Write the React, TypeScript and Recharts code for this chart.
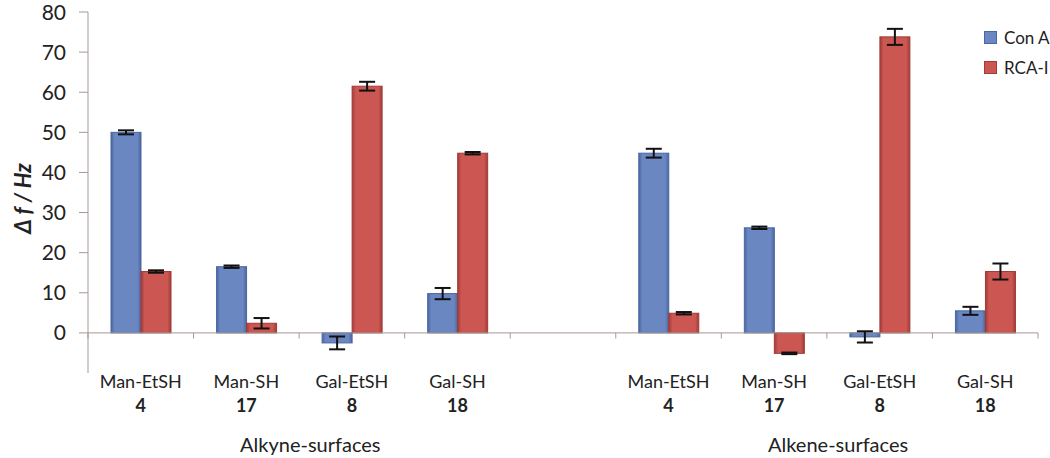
import { Bar, BarChart, ErrorBar, ReferenceLine, XAxis, YAxis } from "recharts";

const IDS = ["yn-1", "yn-2", "yn-3", "yn-4", "gap", "en-1", "en-2", "en-3", "en-4"];
const NAMES = ["Man-EtSH", "Man-SH", "Gal-EtSH", "Gal-SH", "", "Man-EtSH", "Man-SH", "Gal-EtSH", "Gal-SH"];
const COMPOUNDS = ["4", "17", "8", "18", "", "4", "17", "8", "18"];
const GROUPS = ["Alkyne-surfaces", "Alkene-surfaces"];
const GROUP_AT = [1, 6]; // label sits between the 2nd and 3rd bar group of each block

const CON_A = [50.0, 16.5, -2.5, 9.8, null, 44.8, 26.2, -1.0, 5.5];
const CON_A_ERR = [0.5, 0.3, 1.6, 1.4, null, 1.1, 0.3, 1.4, 1.0];
const RCA = [15.3, 2.4, 61.5, 44.8, null, 4.9, -5.1, 73.8, 15.3];
const RCA_ERR = [0.3, 1.3, 1.1, 0.3, null, 0.3, 0.2, 2.0, 2.0];

const Y_TICKS = [0, 10, 20, 30, 40, 50, 60, 70, 80];
const SERIES = [
  { key: "conA", name: "Con A", fill: "#6a87c2", edge: "#4a66a2", grad: "blueGrad" },
  { key: "rca", name: "RCA-I", fill: "#cc5652", edge: "#a03b38", grad: "redGrad" },
];

const data = IDS.map((id, i) => ({
  id,
  conA: CON_A[i],
  conAErr: CON_A_ERR[i],
  rca: RCA[i],
  rcaErr: RCA_ERR[i],
}));

const FONT = "Lato, 'Liberation Sans', sans-serif";
const AXIS = "#a59995";

function BevelBar(props: any) {
  const { x, y, width, height, grad, edge } = props;
  if (height == null || width == null) return null;
  const top = height < 0 ? y + height : y;
  const h = Math.abs(height);
  return (
    <rect x={x} y={top} width={width} height={h} fill={`url(#${grad})`} stroke={edge} strokeWidth={1} />
  );
}

function CategoryTick(props: any) {
  const { x, y, payload } = props;
  const i = payload.index;
  const g = GROUP_AT.indexOf(i);
  return (
    <g fontFamily={FONT} fill="#222">
      {NAMES[i] && (
        <text x={x} y={y + 7} textAnchor="middle" fontSize={18}>
          {NAMES[i]}
        </text>
      )}
      {COMPOUNDS[i] && (
        <text x={x} y={y + 31} textAnchor="middle" fontSize={18} fontWeight="bold">
          {COMPOUNDS[i]}
        </text>
      )}
      {g >= 0 && (
        <text x={x + 64} y={y + 71} textAnchor="middle" fontSize={20}>
          {GROUPS[g]}
        </text>
      )}
    </g>
  );
}

function LegendBox() {
  return (
    <div
      style={{
        position: "absolute",
        left: 984,
        top: 22,
        fontFamily: FONT,
        fontSize: 17,
        color: "#222",
        whiteSpace: "nowrap",
      }}
    >
      {SERIES.map((s) => (
        <div key={s.key} style={{ display: "flex", alignItems: "center", height: 30 }}>
          <span
            style={{
              display: "inline-block",
              width: 11,
              height: 11,
              marginRight: 7,
              background: s.fill,
              border: `1px solid ${s.edge}`,
            }}
          />
          {s.name}
        </div>
      ))}
    </div>
  );
}

export default function App() {
  return (
    <div style={{ position: "absolute", left: 0, top: 0, width: 1050, height: 458, background: "#fff" }}>
      <BarChart
        width={1050}
        height={458}
        data={data}
        margin={{ top: 12, right: 12, left: 0, bottom: 5 }}
        barGap={0}
        barSize={30}
      >
        <defs>
          {SERIES.map((s) => (
            <linearGradient key={s.grad} id={s.grad} x1="0" y1="0" x2="1" y2="0">
              <stop offset="0%" stopColor={s.edge} />
              <stop offset="12%" stopColor={s.fill} />
              <stop offset="88%" stopColor={s.fill} />
              <stop offset="100%" stopColor={s.edge} />
            </linearGradient>
          ))}
        </defs>
        <XAxis
          dataKey="id"
          interval={0}
          axisLine={false}
          tickLine={false}
          height={80}
          tick={<CategoryTick />}
        />
        <YAxis
          domain={[-10, 80]}
          ticks={Y_TICKS}
          width={88}
          stroke={AXIS}
          tickSize={9}
          tickMargin={13}
          tick={{ fontSize: 21, fill: "#222", fontFamily: FONT }}
          label={{
            content: (p: any) => {
              const vb = p.viewBox;
              const cx = vb.x + 22;
              const cy = vb.y + vb.height / 2 + 6;
              return (
                <text
                  x={cx}
                  y={cy}
                  transform={`rotate(-90 ${cx} ${cy})`}
                  textAnchor="middle"
                  dominantBaseline="central"
                  fontFamily={FONT}
                  fontSize={22}
                  fontWeight="bold"
                  fontStyle="italic"
                  fill="#222"
                >
                  Δ f / Hz
                </text>
              );
            },
          }}
        />
        <ReferenceLine y={0} stroke={AXIS} strokeWidth={1} />
        {IDS.map((id) => (
          <ReferenceLine
            key={`tick-${id}`}
            segment={[{ x: id, y: 0 }, { x: id, y: -1.4 }]}
            position="start"
            stroke={AXIS}
          />
        ))}
        <ReferenceLine
          segment={[{ x: IDS[IDS.length - 1], y: 0 }, { x: IDS[IDS.length - 1], y: -1.4 }]}
          position="end"
          stroke={AXIS}
        />
        {SERIES.map((s) => (
          <Bar
            key={s.key}
            dataKey={s.key}
            name={s.name}
            fill={s.fill}
            isAnimationActive={false}
            shape={(p: any) => <BevelBar {...p} grad={s.grad} edge={s.edge} />}
          >
            <ErrorBar dataKey={`${s.key}Err`} width={8} strokeWidth={2} stroke="#111" direction="y" />
          </Bar>
        ))}
      </BarChart>
      <LegendBox />
    </div>
  );
}
